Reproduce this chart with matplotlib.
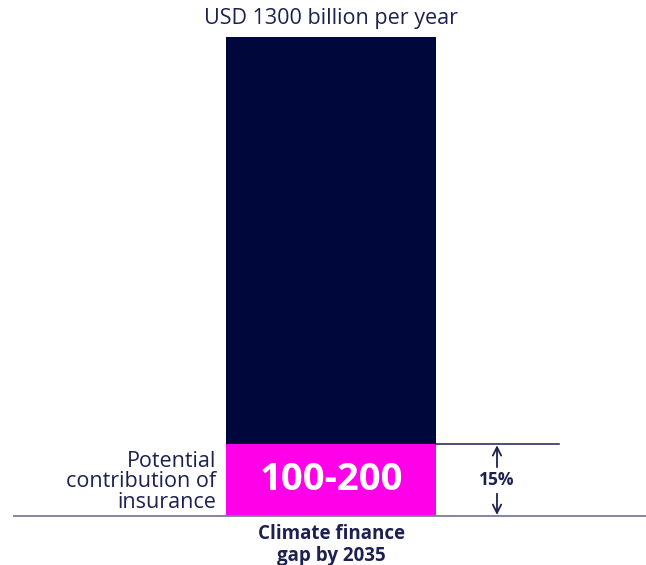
import matplotlib
matplotlib.use("Agg")
import matplotlib.pyplot as plt

# Climate finance gap (USD billion per year) and the part insurance could cover
categories = ["Climate finance\ngap by 2035"]
total_gap = [1300]
insurance_share = [0.15]
insurance_range = ["100-200"]

NAVY = "#00073a"
MAGENTA = "#ff00e8"
TEXT = "#1c2150"
RULE = "#7b7e9c"

plt.rcParams["font.family"] = ["Open Sans", "DejaVu Sans"]

fig = plt.figure(figsize=(6.46, 5.65), dpi=100)
W, H = 646, 565
base_px, top_px = 516, 37
ax = fig.add_axes([0, (H - base_px) / H, 1, (base_px - top_px) / H])
ax.set_xlim(0, W)
ax.set_ylim(0, total_gap[0])
ax.axis("off")

x = 331
insurance = [t * s for t, s in zip(total_gap, insurance_share)]
rest = [t - i for t, i in zip(total_gap, insurance)]
ax.bar(x, insurance, width=210, color=MAGENTA)
ax.bar(x, rest, width=210, bottom=insurance, color=NAVY)

# baseline and the 15% bracket line
ax.plot([14, W], [0, 0], color=RULE, lw=1.3, clip_on=False)
ax.plot([436, 559], [insurance[0], insurance[0]], color=TEXT, lw=1.1)

ax.text(x, total_gap[0] + 22, "USD 1300 billion per year", ha="center",
        va="bottom", fontsize=15.5, color=TEXT)
ax.text(x, insurance[0] / 2, insurance_range[0], ha="center", va="center",
        fontsize=27.5, fontweight="bold", color="white")
ax.text(216, insurance[0] / 2 - 5, "Potential\ncontribution of\ninsurance",
        ha="right", va="center", fontsize=15.5, color=TEXT, linespacing=0.98)
ax.text(x, -22, categories[0], ha="center", va="top", fontsize=13.5,
        fontweight="bold", color=TEXT, linespacing=1.1)

# arrows from the percentage label out to the bracket
ax.text(497, insurance[0] / 2, f"{insurance_share[0]:.0%}", ha="center",
        va="center", fontsize=12.5, fontweight="bold", color=TEXT)
arrow = dict(arrowstyle="->", color=TEXT, lw=1.3, mutation_scale=15,
             shrinkA=0, shrinkB=0)
ax.annotate("", xy=(497, insurance[0] - 3), xytext=(497, insurance[0] * 0.68),
            arrowprops=arrow)
ax.annotate("", xy=(497, 3), xytext=(497, insurance[0] * 0.31),
            arrowprops=arrow)

fig.savefig("out.png", dpi=100)
